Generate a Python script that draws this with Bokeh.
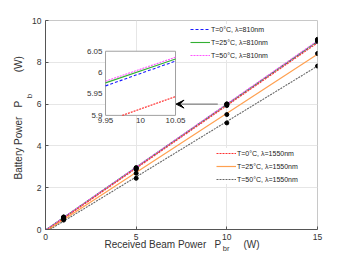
import numpy as np
from bokeh.plotting import figure
from bokeh.models import (Range1d, Legend, LegendItem, Arrow, VeeHead,
                          FixedTicker, LinearAxis)
from bokeh.core.properties import value
from bokeh.embed import file_html
from bokeh.resources import INLINE

FONT = "Liberation Sans"

# ---- data ----
x_points = [1, 5, 10, 15]
pts_810_T0 = [0.57, 2.92, 5.98, 9.04]
pts_810_T25 = [0.59, 2.94, 6.00, 9.07]
pts_810_T50 = [0.60, 2.96, 6.01, 9.10]
pts_1550_T0 = [0.55, 2.87, 5.93, 9.00]
pts_1550_T25 = [0.52, 2.69, 5.50, 8.42]
pts_1550_T50 = [0.45, 2.45, 5.10, 7.82]

# fitted lines (start on the x axis, end at 15 W)
line_810_T0_x = [0.05, 15]
line_810_T0_y = [0, 8.98]
line_810_T25_x = [0.05, 15]
line_810_T25_y = [0, 9.00]
line_810_T50_x = [0.05, 15]
line_810_T50_y = [0, 9.03]
line_1550_T0_x = [0.12, 15]
line_1550_T0_y = [0, 8.93]
line_1550_T25_x = [0.17, 15]
line_1550_T25_y = [0, 8.38]
line_1550_T50_x = [0.25, 15]
line_1550_T50_y = [0, 7.82]

# zoomed inset
inset_x_range = [9.95, 10.05]
inset_y_range = [5.9, 6.05]
inset_x_ticks = [9.95, 10, 10.05]
inset_y_ticks = [5.9, 5.95, 6, 6.05]
inset_x_labels = ["9.95", "10", "10.05"]
inset_y_labels = ["5.9", "5.95", "6", "6.05"]
inset_810_T0_y = [5.969, 6.027]
inset_810_T25_y = [5.976, 6.032]
inset_810_T50_y = [5.980, 6.036]
inset_1550_T0_x = [9.974, 10.05]
inset_1550_T0_y = [5.9, 5.944]

x_ticks = [0, 5, 10, 15]
y_ticks = [0, 2, 4, 6, 8, 10]

labels = ["T=0°C, λ=810nm", "T=25°C, λ=810nm", "T=50°C, λ=810nm",
          "T=0°C, λ=1550nm", "T=25°C, λ=1550nm", "T=50°C, λ=1550nm"]

# axis title pieces (text and where each piece sits along its axis)
xlabel_texts = ["Received Beam Power", "P", "(W)"]
xlabel_pos = [6.06, 9.50, 11.36]
xsub_texts = ["br"]
xsub_pos = [9.96]
ylabel_texts = ["Battery Power", "P", "(W)"]
ylabel_pos = [5.40, 6.16, 8.29]
ysub_texts = ["b"]
ysub_pos = [6.49]

TXT = "#333333"

p = figure(width=342, height=255, x_range=Range1d(0, 15), y_range=Range1d(0, 10),
           output_backend="svg", toolbar_location=None,
           min_border_left=45, min_border_right=25, min_border_top=20, min_border_bottom=24)
p.background_fill_color = "white"
p.outline_line_color = "#c8c8c8"
for ax in (p.xaxis[0], p.yaxis[0]):
    ax.major_label_text_font = FONT
    ax.major_label_text_font_size = "8.5px"
    ax.major_label_text_color = TXT
    ax.axis_line_color = "#555555"
    ax.major_tick_line_color = "#555555"
    ax.major_tick_in = 3
    ax.major_tick_out = 0
    ax.minor_tick_line_color = None
p.xaxis.ticker = FixedTicker(ticks=x_ticks)
p.yaxis.ticker = FixedTicker(ticks=y_ticks)
p.xaxis.major_label_standoff = 4
p.yaxis.major_label_standoff = 4
p.grid.grid_line_color = "#e6e6e6"


def text_axis(texts, pos, size, standoff, orient=None):
    ax = LinearAxis(ticker=FixedTicker(ticks=pos),
                    major_label_overrides={float(k): t for k, t in zip(pos, texts)},
                    axis_line_color=None, major_tick_line_color=None, minor_tick_line_color=None,
                    major_tick_in=0, major_tick_out=0,
                    major_label_standoff=standoff, major_label_text_font=FONT,
                    major_label_text_font_size=size, major_label_text_color=TXT)
    if orient is not None:
        ax.major_label_orientation = orient
    return ax


p.add_layout(text_axis(xlabel_texts, xlabel_pos, "10px", -4), "below")
p.add_layout(text_axis(xsub_texts, xsub_pos, "7.5px", -9), "below")
p.add_layout(text_axis(ysub_texts, ysub_pos, "8px", 0, np.pi / 2), "left")
p.add_layout(text_axis(ylabel_texts, ylabel_pos, "10px", -1, np.pi / 2), "left")

r1 = p.line(line_810_T0_x, line_810_T0_y, line_color="#1a1aff", line_width=1.1, line_dash="3 2")
r2 = p.line(line_810_T25_x, line_810_T25_y, line_color="#33b033", line_width=1.1)
r3 = p.line(line_810_T50_x, line_810_T50_y, line_color="#ff55ff", line_width=1.1, line_dash="2 1")
r4 = p.line(line_1550_T0_x, line_1550_T0_y, line_color="#ff3030", line_width=1.1, line_dash="2 1")
r5 = p.line(line_1550_T25_x, line_1550_T25_y, line_color="#ffa050", line_width=1.2)
r6 = p.line(line_1550_T50_x, line_1550_T50_y, line_color="#666666", line_width=1.1, line_dash="2 1")

for pts in (pts_810_T0, pts_810_T25, pts_810_T50, pts_1550_T0, pts_1550_T25, pts_1550_T50):
    p.scatter(x_points, pts, size=4, color="black")

leg1 = Legend(items=[LegendItem(label=labels[i], renderers=[r]) for i, r in enumerate([r1, r2, r3])],
              location=(145, 169))
leg2 = Legend(items=[LegendItem(label=labels[i + 3], renderers=[r]) for i, r in enumerate([r4, r5, r6])],
              location=(171, 45))
for lg in (leg1, leg2):
    lg.label_text_font = FONT
    lg.label_text_font_size = "7px"
    lg.label_text_color = "#222222"
    lg.glyph_width = 20
    lg.glyph_height = 10
    lg.label_height = 10
    lg.label_standoff = 1
    lg.spacing = 3
    lg.padding = 3
    lg.margin = 0
    lg.border_line_color = None
    lg.background_fill_color = "white"
    lg.background_fill_alpha = 1
    p.add_layout(lg)

# inset in its own coordinate system
sub = p.subplot(x_source=Range1d(inset_x_range[0], inset_x_range[1]),
                y_source=Range1d(inset_y_range[0], inset_y_range[1]),
                x_target=Range1d(3.31, 7.17), y_target=Range1d(5.46, 8.53))
sub.quad(left=[inset_x_range[0]], right=[inset_x_range[1]], bottom=[inset_y_range[0]], top=[inset_y_range[1]],
         fill_color="white", line_color="#a0a0a0", line_width=1)
sub.line(inset_x_range, inset_810_T0_y, line_color="#1a1aff", line_width=1.1, line_dash="3 2")
sub.line(inset_x_range, inset_810_T25_y, line_color="#33b033", line_width=1.1)
sub.line(inset_x_range, inset_810_T50_y, line_color="#ff55ff", line_width=1.1, line_dash="2 1")
sub.line(inset_1550_T0_x, inset_1550_T0_y, line_color="#ff3030", line_width=1.1, line_dash="2 1")
sub.text(x=inset_x_ticks, y=[inset_y_range[0]] * 3, text=inset_x_labels, text_font=value(FONT),
         text_font_size="8px", text_color=TXT, text_align="center", text_baseline="top", y_offset=3)
sub.text(x=[inset_x_range[0]] * 4, y=inset_y_ticks, text=inset_y_labels, text_font=value(FONT),
         text_font_size="8px", text_color=TXT, text_align="right", text_baseline="middle", x_offset=-3)

p.add_layout(Arrow(x_start=9.5, y_start=6.0, x_end=7.2, y_end=6.0, line_color="#666666", line_width=1,
                   end=VeeHead(size=8, fill_color="black", line_color="black")))

open("out.html", "w").write(file_html(p, INLINE))
